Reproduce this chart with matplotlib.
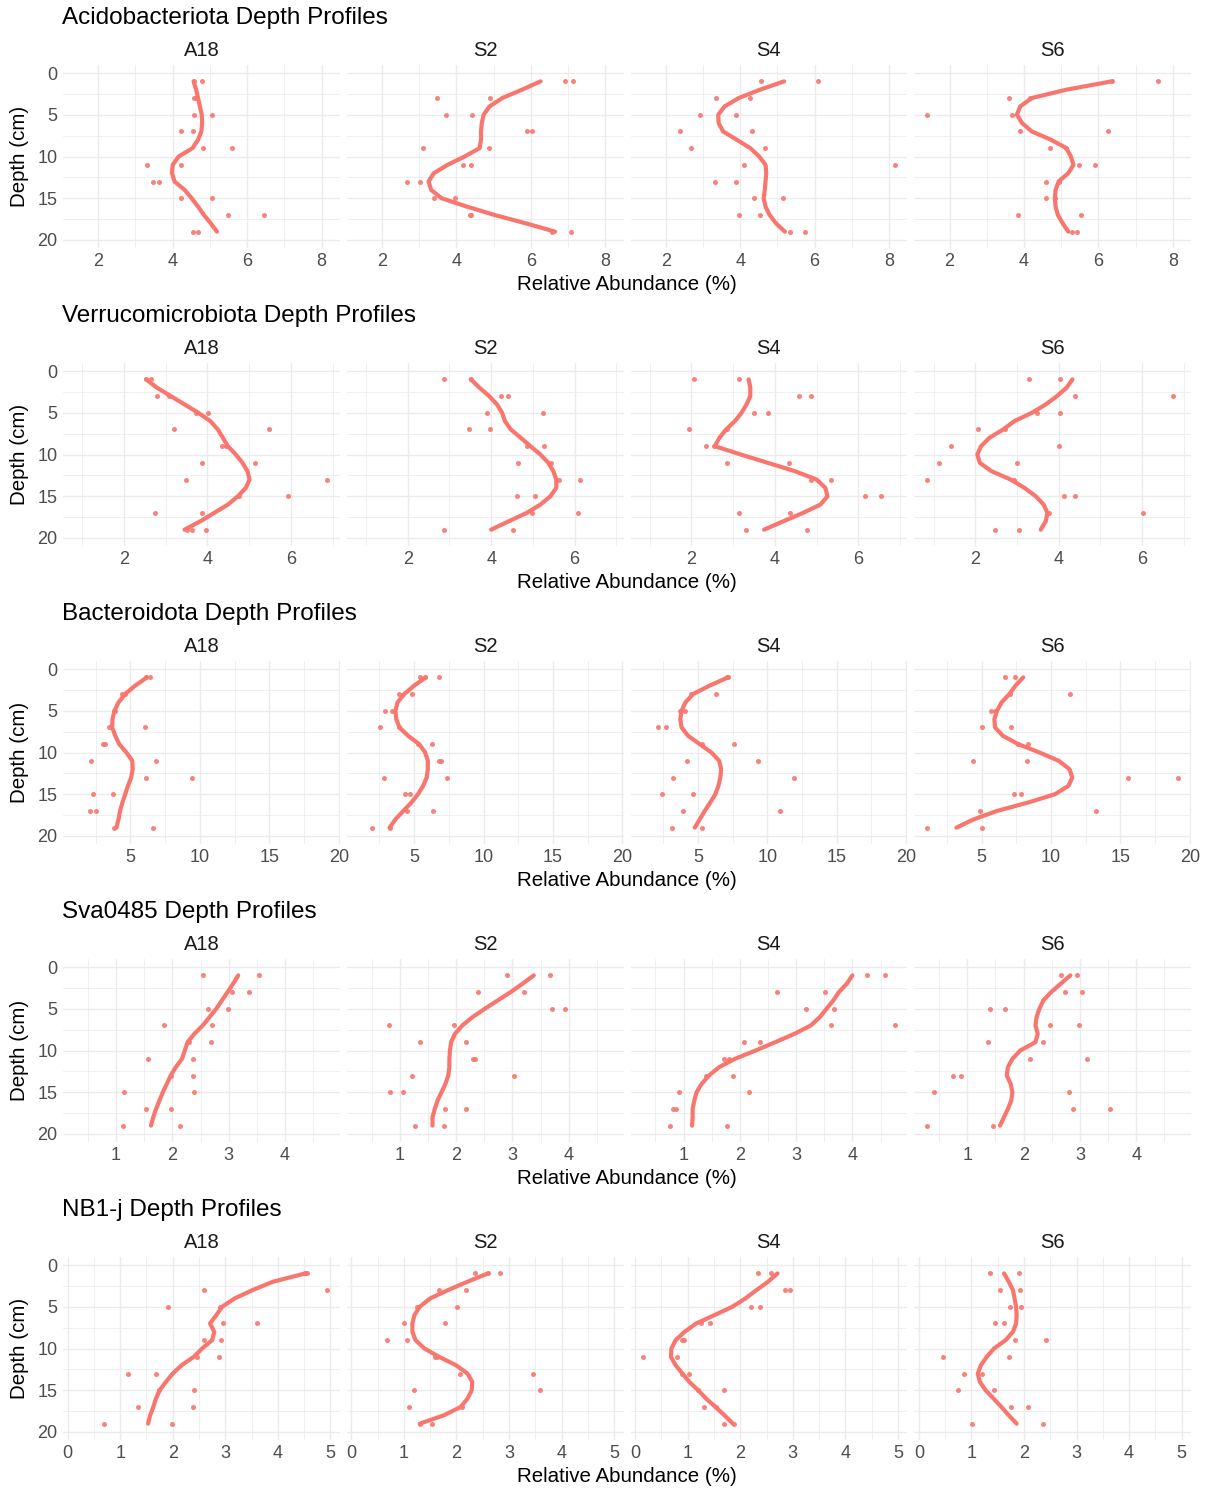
import matplotlib.pyplot as plt

plt.rcParams['font.family'] = ['Liberation Sans', 'DejaVu Sans']

sites = ["A18", "S2", "S4", "S6"]
depths = [1, 3, 5, 7, 9, 11, 13, 15, 17, 19]
smooth_depths = list(range(1, 20))

# replicate abundances at each sampled depth
acido_points = {
    "A18": [[4.56, 4.80], [4.58, 4.62], [4.56, 5.06], [4.23, 4.54], [4.81, 5.58],
            [3.31, 4.22], [3.47, 3.63], [4.22, 5.05], [5.49, 6.46], [4.55, 4.68]],
    "S2": [[6.92, 7.13], [3.48, 4.89], [3.71, 4.42], [5.89, 6.04], [3.09, 4.88],
           [4.18, 4.39], [2.66, 3.02], [3.39, 3.95], [4.37, 4.40], [6.58, 7.07]],
    "S4": [[4.56, 6.09], [3.35, 4.27], [2.92, 3.90], [2.38, 4.33], [2.68, 4.66],
           [4.10, 8.15], [3.33, 3.89], [4.38, 5.14], [3.96, 4.52], [5.35, 5.74]],
    "S6": [[6.36, 7.61], [3.59, 4.15], [1.39, 3.67], [3.88, 6.26], [4.69, 5.12],
           [5.48, 5.92], [4.59, 4.93], [4.59, 4.83], [3.84, 5.52], [5.30, 5.42]],
}
acido_smooth = {
    "A18": [4.56, 4.63, 4.68, 4.73, 4.78, 4.79, 4.77, 4.68, 4.53, 4.16,
            4.00, 3.98, 4.05, 4.32, 4.51, 4.68, 4.84, 5.02, 5.19],
    "S2": [6.26, 5.76, 5.23, 4.89, 4.73, 4.68, 4.66, 4.66, 4.62, 4.22,
           3.76, 3.39, 3.25, 3.32, 3.60, 4.28, 5.02, 5.86, 6.65],
    "S4": [5.18, 4.53, 3.96, 3.58, 3.41, 3.42, 3.54, 3.91, 4.27, 4.51,
           4.68, 4.70, 4.68, 4.66, 4.63, 4.68, 4.79, 4.96, 5.20],
    "S6": [6.36, 5.14, 4.21, 3.90, 3.81, 3.95, 4.21, 4.73, 5.14, 5.26,
           5.33, 5.19, 4.93, 4.85, 4.83, 4.85, 4.91, 5.04, 5.19],
}
acido_ticks = [2, 4, 6, 8]

verruco_points = {
    "A18": [[2.53, 2.64], [2.79, 3.09], [3.72, 4.02], [3.21, 5.48], [4.36, 4.45],
            [3.88, 5.15], [3.48, 6.87], [4.75, 5.92], [2.75, 3.88], [3.50, 3.62, 3.97]],
    "S2": [[2.87, 3.51], [4.24, 4.41], [3.89, 5.25], [3.46, 3.96], [4.85, 5.27],
           [4.64, 5.44], [5.63, 6.12], [4.61, 5.06], [4.99, 6.09], [2.87, 4.52]],
    "S4": [[2.07, 3.13], [4.57, 4.87], [3.51, 3.83], [1.93, 2.85], [2.35, 2.55],
           [2.86, 4.34], [4.87, 5.35], [6.16, 6.54], [3.15, 4.36], [3.30, 4.76]],
    "S6": [[3.30, 4.03], [4.38, 6.75], [3.48, 4.03], [2.06, 2.71], [1.42, 4.01],
           [1.12, 3.01], [0.84, 2.93], [4.13, 4.38], [3.78, 6.03], [2.47, 3.06]],
}
verruco_smooth = {
    "A18": [2.53, 2.79, 3.12, 3.45, 3.78, 4.07, 4.25, 4.37, 4.49, 4.68,
            4.84, 4.96, 5.01, 4.92, 4.73, 4.49, 4.16, 3.83, 3.45],
    "S2": [3.51, 3.72, 3.95, 4.14, 4.26, 4.33, 4.47, 4.71, 4.94, 5.18,
           5.37, 5.49, 5.56, 5.56, 5.42, 5.18, 4.85, 4.42, 4.00],
    "S4": [3.37, 3.41, 3.41, 3.32, 3.20, 3.04, 2.83, 2.67, 2.56, 3.18,
           3.83, 4.48, 5.00, 5.21, 5.26, 5.09, 4.67, 4.20, 3.74],
    "S6": [4.33, 4.19, 3.96, 3.69, 3.36, 2.94, 2.67, 2.34, 2.14, 2.05,
           2.11, 2.39, 2.85, 3.18, 3.45, 3.64, 3.73, 3.69, 3.57],
}
verruco_ticks = [2, 4, 6]

bactero_points = {
    "A18": [[6.14, 6.42], [4.43, 4.63], [3.83, 3.90], [3.49, 6.05], [3.01, 3.21],
            [2.15, 6.85], [6.14, 9.47], [2.29, 3.72], [2.12, 2.55], [3.83, 6.62]],
    "S2": [[5.43, 5.77, 6.79], [3.95, 4.86], [2.93, 3.44], [2.53, 3.95], [5.30, 6.28],
           [6.79, 6.93], [2.87, 7.36], [4.38, 4.72], [4.52, 6.34], [1.96, 3.30]],
    "S4": [[7.09, 7.20], [4.50, 6.34], [3.74, 4.11], [2.12, 2.68], [5.28, 7.57],
           [4.25, 9.33], [3.24, 11.90], [2.43, 4.66], [3.91, 10.89], [3.16, 5.28]],
    "S6": [[6.72, 7.44], [7.08, 11.33], [5.69, 5.97], [5.00, 7.14], [7.60, 8.33],
           [4.39, 8.28], [15.56, 19.17], [7.36, 7.86], [4.86, 13.22], [1.06, 5.00]],
}
bactero_smooth = {
    "A18": [6.20, 5.34, 4.63, 4.15, 3.86, 3.72, 3.69, 3.92, 4.20, 4.72,
            5.14, 5.17, 5.06, 4.83, 4.63, 4.43, 4.26, 4.15, 4.00],
    "S2": [5.85, 5.00, 4.29, 3.81, 3.66, 3.72, 3.95, 4.57, 5.37, 5.80,
           5.99, 5.99, 5.91, 5.65, 5.28, 4.80, 4.23, 3.66, 3.24],
    "S4": [7.18, 5.84, 4.66, 4.11, 3.83, 3.74, 3.83, 4.30, 5.14, 5.98,
           6.54, 6.68, 6.62, 6.48, 6.26, 5.89, 5.50, 5.14, 4.78],
    "S6": [8.00, 7.44, 7.00, 6.44, 6.11, 5.92, 5.97, 6.53, 7.64, 9.17,
           10.56, 11.33, 11.53, 11.25, 10.28, 8.33, 6.11, 4.44, 3.19],
}
bactero_ticks = [5, 10, 15, 20]

sva_points = {
    "A18": [[2.54, 3.54], [3.06, 3.36], [2.63, 2.98], [1.85, 2.70], [2.29, 2.68],
            [1.56, 2.36], [1.97, 2.36], [1.14, 2.39], [1.54, 1.97], [1.13, 2.13]],
    "S2": [[2.91, 3.66], [2.39, 3.20], [3.71, 3.93], [0.81, 1.96], [1.35, 2.17],
           [2.30, 2.34], [1.21, 3.02], [0.82, 1.06], [1.81, 2.17], [1.27, 1.79]],
    "S4": [[4.25, 4.57], [2.66, 3.51], [3.18, 3.67], [3.62, 4.75], [2.08, 2.35],
           [1.71, 1.80], [1.40, 1.87], [0.91, 2.17], [0.81, 0.86], [0.76, 1.77]],
    "S6": [[2.67, 2.94], [2.74, 3.04], [1.40, 1.67], [2.47, 2.98], [1.37, 2.35],
           [2.11, 3.12], [0.75, 0.89], [0.40, 2.81], [2.87, 3.54], [0.28, 1.45]],
}
sva_smooth = {
    "A18": [3.17, 3.08, 2.98, 2.88, 2.78, 2.66, 2.54, 2.39, 2.27, 2.22,
            2.17, 2.06, 1.97, 1.90, 1.83, 1.77, 1.71, 1.66, 1.62],
    "S2": [3.38, 3.18, 2.97, 2.74, 2.51, 2.29, 2.11, 1.98, 1.91, 1.89,
           1.88, 1.88, 1.86, 1.81, 1.74, 1.67, 1.62, 1.58, 1.58],
    "S4": [4.00, 3.90, 3.76, 3.66, 3.54, 3.42, 3.26, 2.97, 2.63, 2.28,
           1.91, 1.63, 1.45, 1.32, 1.23, 1.19, 1.16, 1.16, 1.15],
    "S6": [2.83, 2.66, 2.49, 2.35, 2.28, 2.23, 2.21, 2.25, 2.21, 1.94,
           1.80, 1.72, 1.70, 1.77, 1.80, 1.78, 1.72, 1.65, 1.58],
}
sva_ticks = [1, 2, 3, 4]

nb1_points = {
    "A18": [[4.51, 4.55], [2.60, 4.94], [1.91, 2.90], [2.95, 3.60], [2.59, 2.92],
            [2.47, 2.89], [1.15, 1.69], [1.74, 2.41], [1.33, 2.39], [0.70, 1.99]],
    "S2": [[2.36, 2.60, 2.83], [1.67, 2.19], [1.24, 2.01], [1.00, 1.79], [0.68, 1.05],
           [1.59, 1.62], [2.06, 3.45], [1.19, 3.59], [1.09, 2.10], [1.30, 1.54]],
    "S4": [[2.33, 2.59], [2.86, 2.95], [2.20, 2.38], [1.25, 1.42], [0.89, 0.92],
           [0.15, 0.80], [0.90, 1.03], [1.20, 1.69], [1.31, 1.53], [1.70, 1.88]],
    "S6": [[1.36, 1.91], [1.54, 1.92], [1.73, 1.95], [1.44, 1.62], [1.83, 2.42],
           [0.46, 1.71], [0.85, 1.20], [0.74, 1.42], [1.75, 2.07], [1.01, 2.36]],
}
nb1_smooth = {
    "A18": [4.53, 3.91, 3.52, 3.18, 2.94, 2.83, 2.71, 2.79, 2.75, 2.56,
            2.40, 2.17, 2.00, 1.87, 1.75, 1.68, 1.63, 1.57, 1.53],
    "S2": [2.60, 2.21, 1.84, 1.50, 1.30, 1.20, 1.16, 1.16, 1.22, 1.39,
           1.67, 1.99, 2.21, 2.30, 2.29, 2.21, 2.08, 1.76, 1.30],
    "S4": [2.71, 2.53, 2.31, 2.10, 1.85, 1.51, 1.16, 0.94, 0.77, 0.69,
           0.68, 0.77, 0.90, 1.03, 1.20, 1.35, 1.53, 1.70, 1.86],
    "S6": [1.62, 1.71, 1.79, 1.82, 1.85, 1.86, 1.85, 1.79, 1.65, 1.43,
           1.29, 1.18, 1.12, 1.16, 1.27, 1.42, 1.57, 1.71, 1.86],
}
nb1_ticks = [0, 1, 2, 3, 4, 5]

rows = [
    ("Acidobacteriota Depth Profiles", acido_points, acido_smooth, acido_ticks),
    ("Verrucomicrobiota Depth Profiles", verruco_points, verruco_smooth, verruco_ticks),
    ("Bacteroidota Depth Profiles", bactero_points, bactero_smooth, bactero_ticks),
    ("Sva0485 Depth Profiles", sva_points, sva_smooth, sva_ticks),
    ("NB1-j Depth Profiles", nb1_points, nb1_smooth, nb1_ticks),
]

W, H = 1209, 1490
col = "#F8766D"
grid_col = "#EBEBEB"

fig = plt.figure(figsize=(W / 100, H / 100), dpi=100)


def fx(px):
    return px / W


def fy(py):
    return 1 - py / H


panel_left = 63
panel_w = 276.75
panel_gap = 7
unit = 8.35            # pixels per cm of depth
row_step = 298

for r, (title, pts, smooth, ticks) in enumerate(rows):
    y0 = 73 + row_step * r          # depth 0
    top = y0 - unit
    bottom = y0 + 21 * unit
    # shared x scale per row, ggplot-like 5% expansion
    vals = [v for s in sites for grp in pts[s] for v in grp]
    vals += [v for s in sites for v in smooth[s]]
    lo, hi = min(vals), max(vals)
    pad = 0.05 * (hi - lo)
    xmin, xmax = lo - pad, hi + pad
    step = ticks[1] - ticks[0]
    minor = [t - step / 2 for t in ticks] + [ticks[-1] + step / 2]
    minor = [m for m in minor if xmin <= m <= xmax]

    fig.text(fx(62), fy(y0 - 55), title, fontsize=17.5, ha='left', va='center')
    fig.text(fx(panel_left + (4 * panel_w + 3 * panel_gap) / 2), fy(y0 + 211),
             "Relative Abundance (%)", fontsize=14.8, ha='center', va='center')
    fig.text(fx(20), fy((top + bottom) / 2), "Depth (cm)", fontsize=14.8,
             rotation=90, ha='center', va='center')

    for c, site in enumerate(sites):
        left = panel_left + c * (panel_w + panel_gap)
        ax = fig.add_axes([fx(left), fy(bottom), panel_w / W, (bottom - top) / H])
        px, py = [], []
        for d, grp in zip(depths, pts[site]):
            for v in grp:
                px.append(v)
                py.append(d)
        ax.scatter(px, py, s=13, color=col, alpha=0.9, linewidths=0, zorder=2)
        ax.plot(smooth[site], smooth_depths, color=col, lw=3.0,
                solid_capstyle='round', zorder=3)

        ax.set_xticks(ticks)
        ax.set_xticks(minor, minor=True)
        ax.set_yticks([0, 5, 10, 15, 20])
        ax.set_yticks([2.5, 7.5, 12.5, 17.5], minor=True)
        ax.set_xlim(xmin, xmax)
        ax.set_ylim(21, -1)
        ax.grid(which='major', color=grid_col, lw=1.0)
        ax.grid(which='minor', color=grid_col, lw=0.55)
        ax.set_axisbelow(True)
        for sp in ax.spines.values():
            sp.set_visible(False)
        ax.tick_params(which='both', length=0, labelsize=13, labelcolor='#4D4D4D')
        ax.tick_params(axis='x', pad=3)
        ax.tick_params(axis='y', pad=4)
        if c > 0:
            ax.set_yticklabels([])
        ax.set_title(site, fontsize=14.5, color='#1A1A1A', pad=6)

fig.savefig("out.png", dpi=100)
